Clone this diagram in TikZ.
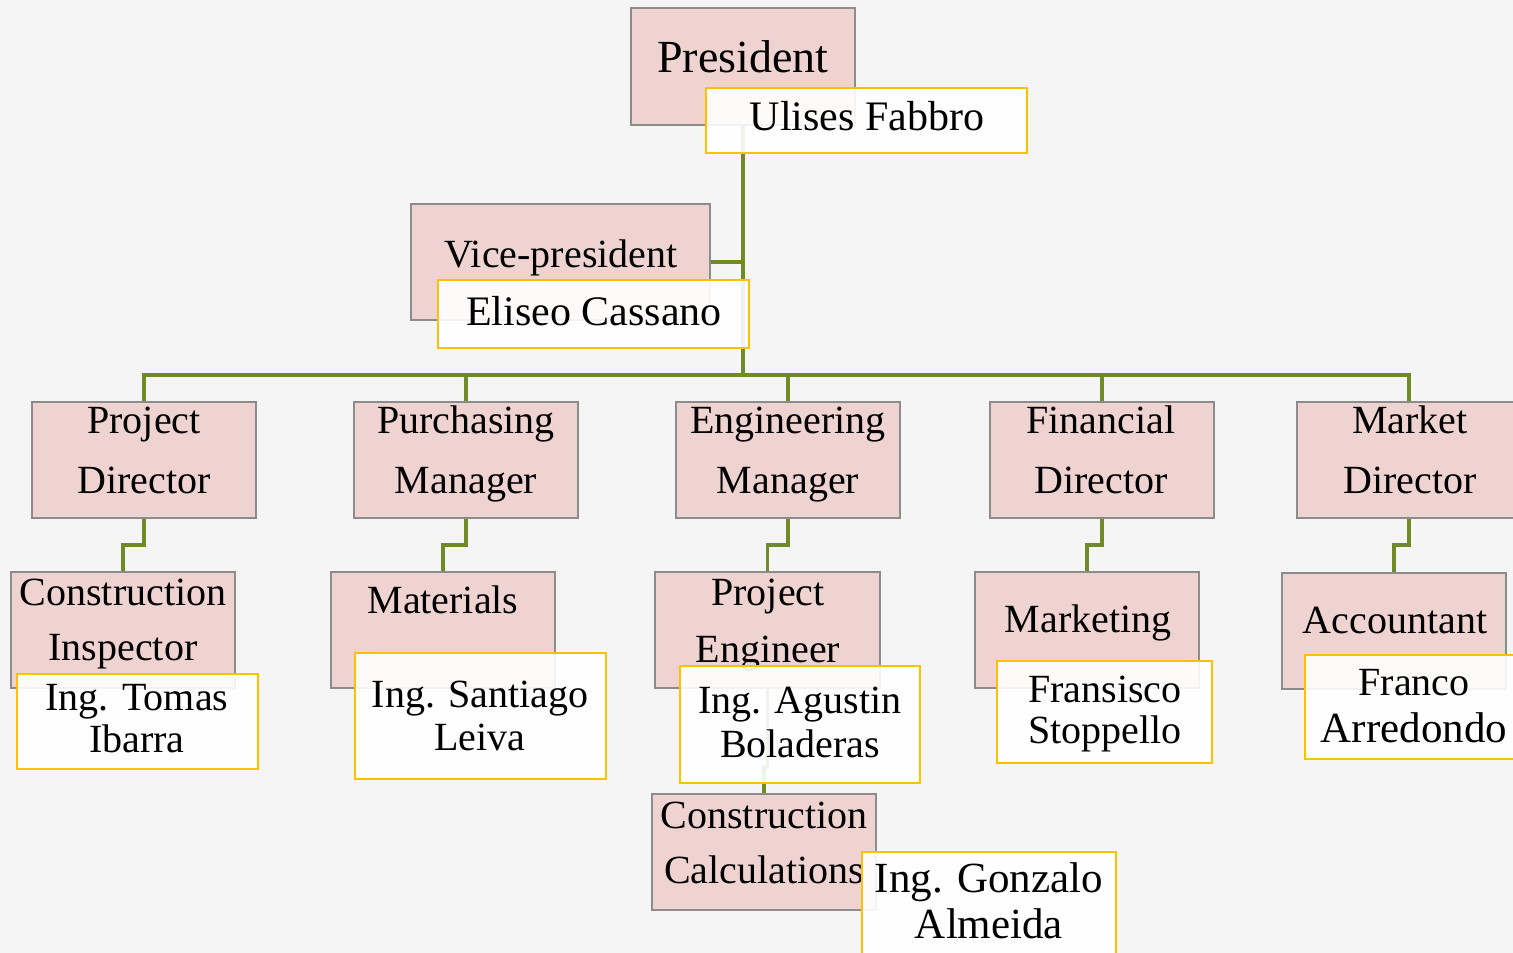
\documentclass[tikz,border=0pt]{standalone}
\usepackage{fontspec}
\setmainfont{Liberation Serif}
\usetikzlibrary{backgrounds}
\definecolor{bg}{HTML}{F5F5F5}
\definecolor{pinkfill}{HTML}{EFD3D1}
\definecolor{boxedge}{HTML}{8C8C8C}
\definecolor{linegreen}{HTML}{6F8A26}
\definecolor{gold}{HTML}{FFC000}
\newcommand\tbox[5]{\node[titlebox, minimum width=#4pt, minimum height=#5pt] (#1) at (#2,#3) {};}
\newcommand\nbox[5]{\node[namebox, minimum width=#4pt, minimum height=#5pt] (#1) at (#2,#3) {};}
\newcommand\tline[4]{\node[txt] (#1) at (#2,#3) {#4};}
\begin{document}
\begin{tikzpicture}[x=1pt,y=-1pt,
  titlebox/.style={draw=boxedge, line width=1.2pt, fill=pinkfill, anchor=north west, inner sep=0pt, outer sep=0pt},
  namebox/.style={draw=gold, line width=1.8pt, fill=white, fill opacity=0.9, draw opacity=1, anchor=north west, inner sep=0pt, outer sep=0pt},
  conn/.style={draw=linegreen, line width=3.4pt},
  txt/.style={anchor=base, inner sep=0pt, font=\fontsize{40}{48}\selectfont, text=black},
  big/.style={font=\fontsize{46}{54}\selectfont},
  mid/.style={font=\fontsize{42}{50}\selectfont},
  large/.style={font=\fontsize{43}{50}\selectfont},
]
\clip (0,0) rectangle (1513,953);

% title boxes
\tbox{pres}{631}{8}{224}{117}
\tbox{vp}{411}{204}{299}{116}
\tbox{pd}{32}{402}{224}{116}
\tbox{pm}{354}{402}{224}{116}
\tbox{em}{676}{402}{224}{116}
\tbox{fd}{990}{402}{224}{116}
\tbox{md}{1297}{402}{224}{116}
\tbox{ci}{11}{572}{224}{116}
\tbox{mat}{331}{572}{224}{116}
\tbox{pe}{655}{572}{225}{116}
\tbox{mk}{975}{572}{224}{116}
\tbox{acc}{1282}{573}{224}{116}
\tbox{cc}{652}{794}{224}{116}

% background and connectors
\begin{pgfonlayer}{background}
\fill[bg] (0,0) rectangle (1513,953);
\coordinate (bus) at (743,375);
\draw[conn] (pres.south) -- (bus);
\draw[conn] (vp.east) -- (vp.east -| bus);
\draw[conn] (bus) -| (pd.north);
\draw[conn] (bus) -| (pm.north);
\draw[conn] (bus) -| (em.north);
\draw[conn] (bus) -| (fd.north);
\draw[conn] (bus) -| (md.north);
\draw[conn] (pd.south) -- ++(0,27) -| (ci.north);
\draw[conn] (pm.south) -- ++(0,27) -| (mat.north);
\draw[conn] (em.south) -- ++(0,27) -| (pe.north);
\draw[conn] (fd.south) -- ++(0,27) -| (mk.north);
\draw[conn] (md.south) -- ++(0,27) -| (acc.north);
\draw[conn] (pe.south) -- ++(0,79) -| (cc.north);
\end{pgfonlayer}

% title texts
\node[txt,big] (tpres) at (743,72) {President};
\tline{tvp}{561}{267}{Vice-president}
\tline{tpd1}{144}{433}{Project}
\tline{tpd2}{144}{493}{Director}
\tline{tpm1}{466}{433}{Purchasing}
\tline{tpm2}{466}{493}{Manager}
\tline{tem1}{788}{433}{Engineering}
\tline{tem2}{788}{493}{Manager}
\tline{tfd1}{1101}{433}{Financial}
\tline{tfd2}{1101}{493}{Director}
\tline{tmd1}{1410}{433}{Market}
\tline{tmd2}{1410}{493}{Director}
\tline{tci1}{123}{605}{Construction}
\tline{tci2}{123}{660}{Inspector}
\tline{tmat}{443}{613}{Materials}
\tline{tpe1}{768}{605}{Project}
\tline{tpe2}{768}{662}{Engineer}
\tline{tmk}{1088}{632}{Marketing}
\tline{tacc}{1395}{633}{Accountant}
\tline{tcc1}{764}{828}{Construction}
\tline{tcc2}{764}{883}{Calculations}

% name boxes
\nbox{ulises}{706}{88}{321}{65}
\nbox{eliseo}{438}{280}{311}{68}
\nbox{tomas}{17}{674}{241}{95}
\nbox{santiago}{355}{653}{251}{126}
\nbox{agustin}{680}{666}{240}{117}
\nbox{fransisco}{997}{661}{215}{102}
\nbox{franco}{1305}{655}{220}{104}
\nbox{gonzalo}{862}{852}{254}{120}

% name texts
\node[txt,mid] (nul) at (867,130) {Ulises Fabbro};
\node[txt,mid] (nel) at (594,325) {Eliseo Cassano};
\tline{nto1}{137}{710}{Ing. Tomas}
\tline{nto2}{137}{752}{Ibarra}
\tline{nsa1}{480}{707}{Ing. Santiago}
\tline{nsa2}{480}{750}{Leiva}
\tline{nag1}{800}{713}{Ing. Agustin}
\tline{nag2}{800}{757}{Boladeras}
\tline{nfr1}{1105}{702}{Fransisco}
\tline{nfr2}{1105}{743}{Stoppello}
\tline{nfc1}{1414}{695}{Franco}
\node[txt,large] (nfc2) at (1414,742) {Arredondo};
\node[txt,large] (ngo1) at (989,892) {Ing. Gonzalo};
\node[txt,large] (ngo2) at (989,938) {Almeida};
\end{tikzpicture}
\end{document}
